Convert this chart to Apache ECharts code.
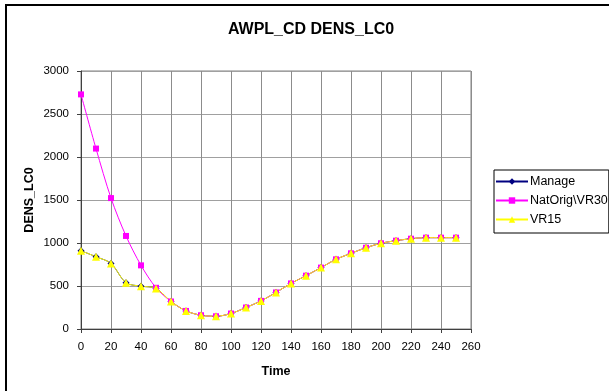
<!DOCTYPE html>
<html><head><meta charset="utf-8">
<script src="https://cdn.jsdelivr.net/npm/echarts@6/dist/echarts.min.js"></script>
<style>html,body{margin:0;padding:0;background:#fff}#c{width:609px;height:391px}</style>
</head><body><div id="c"></div>
<script>
const time = [0,10,20,30,40,50,60,70,80,90,100,110,120,130,140,150,160,170,180,190,200,210,220,230,240,250];
const manage = [910,840,763,537,498,472,320,210,160,148,180,250,327,425,530,620,714,810,880,945,997,1027,1050,1062,1062,1062];
const natOrig = [2728,2098,1522,1082,740,479,320,210,160,148,180,250,327,425,530,620,714,810,880,945,997,1027,1050,1062,1062,1062];
const vr15 = [910,840,763,537,498,472,320,210,160,148,180,250,327,425,530,620,714,810,880,945,997,1027,1050,1062,1062,1062];
const seriesNames = ['Manage','NatOrig\\VR30','VR15'];
const titleText = 'AWPL_CD DENS_LC0';

const font = 'Liberation Sans, Arial, sans-serif';
const pair = a => time.map((t,i)=>[t,a[i]]);
const chart = echarts.init(document.getElementById('c'), null, {renderer:'canvas'});
chart.setOption({
  animation:false,
  backgroundColor:'#fff',
  title:{text:titleText,left:306,top:17,textAlign:'center',textStyle:{fontFamily:font,fontSize:16,fontWeight:'bold',color:'#000'}},
  graphic:[{type:'rect',shape:{x:6,y:5,width:640,height:420},style:{fill:'none',stroke:'#000',lineWidth:2},silent:true}],
  legend:{orient:'vertical',left:494,top:170,itemWidth:32,itemHeight:8,itemGap:6,padding:[5,1,7,1],
    borderColor:'#000',borderWidth:1,textStyle:{fontFamily:font,fontSize:12.5,color:'#000',padding:[0,0,0,-3]},
    data:seriesNames},
  grid:{left:81,top:71,width:390,height:258,show:true,borderColor:'#808080',borderWidth:1},
  xAxis:{type:'value',min:0,max:260,interval:20,name:'Time',nameLocation:'middle',nameGap:36,nameMoveOverlap:false,
    nameTextStyle:{fontFamily:font,fontSize:12.5,fontWeight:'bold',color:'#000'},
    axisLine:{lineStyle:{color:'#404040',width:1}},axisTick:{show:true,length:4,lineStyle:{color:'#404040'}},
    axisLabel:{fontFamily:font,fontSize:11.5,color:'#000',margin:12},
    splitLine:{show:true,lineStyle:{color:'#8c8c8c',width:1}}},
  yAxis:{type:'value',min:0,max:3000,interval:500,name:'DENS_LC0',nameLocation:'middle',nameGap:45,nameMoveOverlap:false,
    nameTextStyle:{fontFamily:font,fontSize:12.5,fontWeight:'bold',color:'#000'},
    axisLine:{show:true,lineStyle:{color:'#404040',width:1}},axisTick:{show:true,length:4,lineStyle:{color:'#404040'}},
    axisLabel:{fontFamily:font,fontSize:11.5,color:'#000',margin:12,formatter:v=>String(v)},
    splitLine:{show:true,lineStyle:{color:'#a0a0a0',width:1}}},
  series:[
    {name:seriesNames[0],type:'line',data:pair(manage),smooth:0.3,symbol:'diamond',symbolSize:7,
      lineStyle:{color:'#000080',width:1},itemStyle:{color:'#000080'}},
    {name:seriesNames[1],type:'line',data:pair(natOrig),smooth:0.3,symbol:'rect',symbolSize:6,
      lineStyle:{color:'#ff00ff',width:1},itemStyle:{color:'#ff00ff'}},
    {name:seriesNames[2],type:'line',data:pair(vr15),smooth:0.3,symbol:'triangle',symbolSize:8,
      lineStyle:{color:'#ffff00',width:1},itemStyle:{color:'#ffff00'}}
  ]
});
</script></body></html>
